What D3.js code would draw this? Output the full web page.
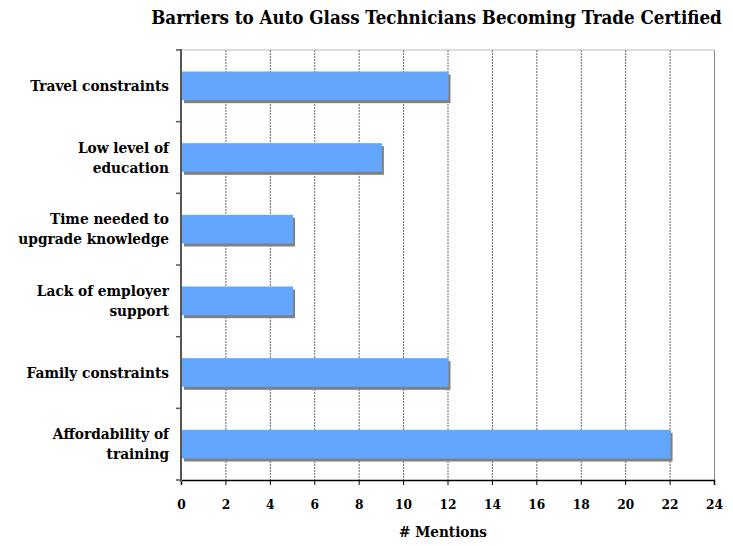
<!DOCTYPE html>
<html><head><meta charset="utf-8">
<script src="https://cdn.jsdelivr.net/npm/d3@7"></script>
<style>body{margin:0;background:#fff}svg{display:block}text{font-family:"DejaVu Serif Condensed","DejaVu Serif","Liberation Serif",serif;font-stretch:condensed;font-weight:bold;fill:#000}</style>
</head><body><svg id="c" width="733" height="546"></svg>
<script>
const categories = [
  ["Travel constraints"],
  ["Low level of", "education"],
  ["Time needed to", "upgrade knowledge"],
  ["Lack of employer", "support"],
  ["Family constraints"],
  ["Affordability of", "training"]
];
const values = [12, 9, 5, 5, 12, 22];
const xTicks = [0, 2, 4, 6, 8, 10, 12, 14, 16, 18, 20, 22, 24];

const svg = d3.select("#c");
const L = 181, R = 714, T = 50, B = 480;
const x = d3.scaleLinear().domain([0, 24]).range([L, R]);
const y = d3.scaleBand().domain(d3.range(categories.length)).range([T, B]).paddingInner(0.6).paddingOuter(0.3);

function fitSize(str, target) {
  const t = svg.append("text").style("font-size", "20px").text(str);
  const w = t.node().getComputedTextLength();
  t.remove();
  return 20 * target / w;
}
const titleSize = fitSize("Barriers to Auto Glass Technicians Becoming Trade Certified", 571);
const labelSize = fitSize("Travel constraints", 139);
const tickSize = fitSize("10", 17);
const xTitleSize = fitSize("# Mentions", 88);

// title
svg.append("text").attr("x", 436.5).attr("y", 24).attr("text-anchor", "middle")
  .style("font-size", titleSize + "px").text("Barriers to Auto Glass Technicians Becoming Trade Certified");

// top border
svg.append("line").attr("x1", L).attr("x2", R).attr("y1", T).attr("y2", T).attr("stroke", "#bbb").attr("stroke-width", 1);

// grid
svg.append("g").selectAll("line").data(xTicks.filter(d => d > 0)).join("line")
  .attr("x1", d => x(d) + 0.5).attr("x2", d => x(d) + 0.5).attr("y1", T).attr("y2", B)
  .attr("stroke", d => d === 24 ? "#888" : "#666").attr("stroke-width", 1)
  .attr("stroke-dasharray", d => d === 24 ? null : "2,1");

// bars shadow
svg.append("g").selectAll("rect").data(values).join("rect")
  .attr("x", x(0) + 3).attr("y", (d, i) => y(i) + 3)
  .attr("width", d => x(d) - x(0)).attr("height", y.bandwidth()).attr("fill", "#808080");
svg.append("g").selectAll("rect").data(values).join("rect")
  .attr("x", x(0) + 1).attr("y", (d, i) => y(i))
  .attr("width", d => x(d) - x(0)).attr("height", y.bandwidth()).attr("fill", "#63A6FF");

// x axis
const xa = svg.append("g").attr("transform", `translate(0,${B})`)
  .call(d3.axisBottom(x).tickValues(xTicks).tickSize(5).tickFormat(d3.format("d")));
xa.select(".domain").attr("stroke", "#000").attr("stroke-width", 1.5);
xa.selectAll(".tick line").attr("stroke", "#000");
xa.selectAll("text").style("font-size", tickSize + "px").attr("y", 29).attr("dy", null);

// y axis (left)
svg.append("line").attr("x1", L).attr("x2", L).attr("y1", T - 1).attr("y2", B + 2)
  .attr("stroke", "#555").attr("stroke-width", 2);
const step = (B - T) / categories.length;
svg.append("g").selectAll("line").data(d3.range(categories.length + 1)).join("line")
  .attr("x1", L - 5).attr("x2", L).attr("y1", i => T + i * step).attr("y2", i => T + i * step)
  .attr("stroke", "#555").attr("stroke-width", 1.5);

// category labels
const lab = svg.append("g").selectAll("text").data(categories).join("text")
  .attr("text-anchor", "end").attr("x", 169).style("font-size", labelSize + "px")
  .attr("y", (d, i) => y(i) + y.bandwidth() / 2 + (d.length === 1 ? 5 : -5));
lab.each(function(lines) {
  const t = d3.select(this);
  lines.forEach((s, k) => {
    t.append("tspan").attr("x", 169).attr("dy", k === 0 ? 0 : 20).text(s);
  });
});

// x title
svg.append("text").attr("x", 443).attr("y", 537).attr("text-anchor", "middle")
  .style("font-size", xTitleSize + "px").text("# Mentions");
</script></body></html>
